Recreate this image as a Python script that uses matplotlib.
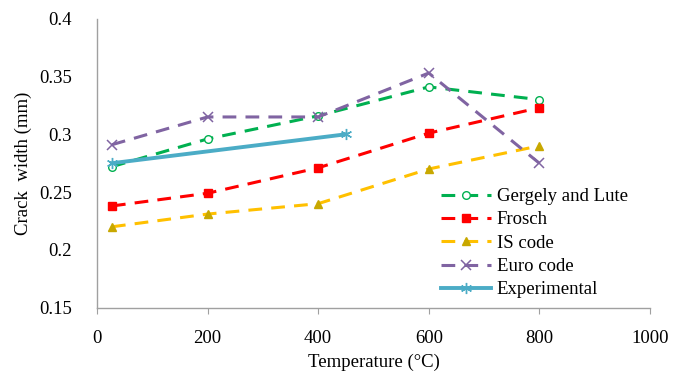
import matplotlib

matplotlib.use("Agg")
import matplotlib.pyplot as plt

temps = [27, 200, 400, 600, 800]
gergely = [0.272, 0.296, 0.316, 0.341, 0.330]
frosch = [0.238, 0.249, 0.271, 0.301, 0.323]
is_code = [0.220, 0.231, 0.240, 0.270, 0.290]
euro = [0.291, 0.315, 0.315, 0.353, 0.275]
exp_temps = [27, 450]
experimental = [0.275, 0.300]

plt.rcParams["font.family"] = ["Liberation Serif", "DejaVu Serif"]

fig = plt.figure(figsize=(6.86, 3.71), dpi=100)
ax = fig.add_axes([0.1414, 0.1706, 0.806, 0.779])

dash = (0, (4.5, 3))
ax.plot(temps, gergely, ls=dash, color="#00B050", lw=2.2, marker="o",
        ms=5.5, mfc="white", mec="#00B050", mew=1.0, label="Gergely and Lute")
ax.plot(temps, frosch, ls=dash, color="#FF0000", lw=2.2, marker="s",
        ms=5.5, mec="#FF0000", label="Frosch")
ax.plot(temps, is_code, ls=dash, color="#FFC000", lw=2.2, marker="^",
        ms=6, mfc="#C8A800", mec="#C8A800", label="IS code")
ax.plot(temps, euro, ls=dash, color="#8064A2", lw=2.2, marker="x",
        ms=7, mec="#8064A2", mew=1.1, label="Euro code")
ax.plot(exp_temps, experimental, ls="-", color="#4BACC6", lw=2.8, marker=(6, 2, 0),
        ms=8, mec="#4BACC6", mew=1.0, label="Experimental")

ax.set_xlim(0, 1000)
ax.set_ylim(0.15, 0.4)
ax.set_xticks([0, 200, 400, 600, 800, 1000])
ax.set_yticks([0.15, 0.2, 0.25, 0.3, 0.35, 0.4])
ax.set_yticklabels(["0.15", "0.2", "0.25", "0.3", "0.35", "0.4"])

for side in ("top", "right"):
    ax.spines[side].set_visible(False)
for side in ("left", "bottom"):
    ax.spines[side].set_color("#A0A0A0")
    ax.spines[side].set_linewidth(1.0)
ax.tick_params(axis="x", direction="out", length=4, color="#A0A0A0",
               labelsize=13.5, pad=12)
ax.tick_params(axis="y", direction="out", length=0, labelsize=13.5, pad=18)

ax.set_xlabel("Temperature (°C)", fontsize=13.5, labelpad=5)
ax.set_ylabel("Crack  width (mm)", fontsize=13.5, labelpad=5)

ax.legend(loc="upper left", bbox_to_anchor=(0.608, 0.44), frameon=False,
          fontsize=13.5, handlelength=2.7, handletextpad=0.3, labelspacing=0.33,
          borderaxespad=0)

fig.savefig("out.png", dpi=100)
